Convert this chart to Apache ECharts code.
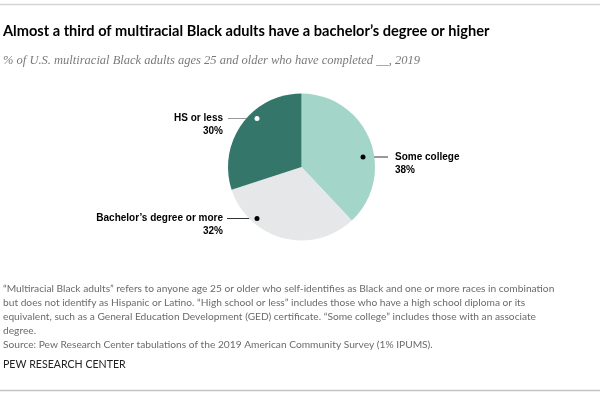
<!DOCTYPE html>
<html>
<head>
<meta charset="utf-8">
<script src="https://cdn.jsdelivr.net/npm/echarts@6/dist/echarts.min.js"></script>
<style>
html,body{margin:0;padding:0;background:#fff;}
#chart{width:600px;height:395px;}
</style>
</head>
<body>
<div id="chart"></div>
<script>
// ---- data ----
const categories = ["Some college", "Bachelor\u2019s degree or more", "HS or less"];
const shares = [38, 32, 30];
const sliceColors = ["#a3d5c9", "#e6e7e8", "#35766a"];

const titleText = "Almost a third of multiracial Black adults have a bachelor\u2019s degree or higher";
const subtitleText = "% of U.S. multiracial Black adults ages 25 and older who have completed __, 2019";
const noteLines = [
  "\u201cMultiracial Black adults\u201d refers to anyone age 25 or older who self-identifies as Black and one or more races in combination",
  "but does not identify as Hispanic or Latino. \u201cHigh school or less\u201d includes those who have a high school diploma or its",
  "equivalent, such as a General Education Development (GED) certificate. \u201cSome college\u201d includes those with an associate",
  "degree.",
  "Source: Pew Research Center tabulations of the 2019 American Community Survey (1% IPUMS)."
];
const creditText = "PEW RESEARCH CENTER";

// ---- layout (style only) ----
const pieCenter = [301.5, 167];
const pieRadius = 73.5;
const labelAnchors = [
  {dot:[363,157], lineEnd:388, tx:395, align:"left",  dotFill:"#000", line:"#333"},
  {dot:[257,218.5], lineEnd:227, tx:223, align:"right", dotFill:"#000", line:"#333"},
  {dot:[257,118.5], lineEnd:228, tx:223, align:"right", dotFill:"#fff", line:"#9a9a9a"}
];
const LH = 13;

const chart = echarts.init(document.getElementById('chart'), null, {renderer:'canvas'});

const data = categories.map((c,i)=>({
  name:c, value:shares[i],
  itemStyle:{color:sliceColors[i]},
  labelLine:{lineStyle:{color:labelAnchors[i].line, width:1}}
}));

const graphics = [
  {type:'line', shape:{x1:0,y1:4.5,x2:600,y2:4.5}, style:{stroke:'#d4d4d4', lineWidth:1.5}},
  {type:'line', shape:{x1:0,y1:390.5,x2:600,y2:390.5}, style:{stroke:'#c4c4c4', lineWidth:1.5}},
  {type:'text', left:3, top:24, style:{text:titleText, font:'bold 14.6px Lato, "Liberation Sans", sans-serif', fill:'#000'}},
  {type:'text', left:3, top:54, style:{text:subtitleText, font:'italic 12.5px "Liberation Serif", serif', fill:'#7a7a7a'}},
  {type:'text', left:3, top:282, style:{text:noteLines.join('\n'), font:'10.2px Lato, "Liberation Sans", sans-serif', fill:'#6b6b6b', lineHeight:14}},
  {type:'text', left:3, top:359, style:{text:creditText, font:'10.6px Lato, "Liberation Sans", sans-serif', fill:'#222'}}
];
labelAnchors.forEach(a=>{
  graphics.push({type:'circle', z:100, shape:{cx:a.dot[0], cy:a.dot[1], r:2.5}, style:{fill:a.dotFill, stroke:null}});
});

chart.setOption({
  animation:false,
  backgroundColor:'#fff',
  graphic:graphics,
  series:[{
    type:'pie',
    center:pieCenter,
    radius:pieRadius,
    startAngle:90,
    clockwise:true,
    silent:true,
    data:data,
    itemStyle:{borderWidth:0},
    label:{
      show:true,
      position:'outside',
      formatter:p=>'{n|'+p.name+'}\n{v|'+p.value+'%}',
      rich:{
        n:{fontFamily:'"Liberation Sans", Arial, sans-serif', fontWeight:'bold', fontSize:10, color:'#000', lineHeight:LH},
        v:{fontFamily:'"Liberation Sans", Arial, sans-serif', fontWeight:'bold', fontSize:10, color:'#000', lineHeight:LH}
      }
    },
    labelLine:{show:true, length:10, length2:10},
    labelLayout:function(params){
      const a = labelAnchors[params.dataIndex];
      return {
        x:a.tx, y:a.dot[1]-LH/2, align:a.align, verticalAlign:'top',
        labelLinePoints:[[a.dot[0],a.dot[1]],[a.lineEnd,a.dot[1]],[a.lineEnd,a.dot[1]]]
      };
    }
  }]
});
</script>
</body>
</html>
